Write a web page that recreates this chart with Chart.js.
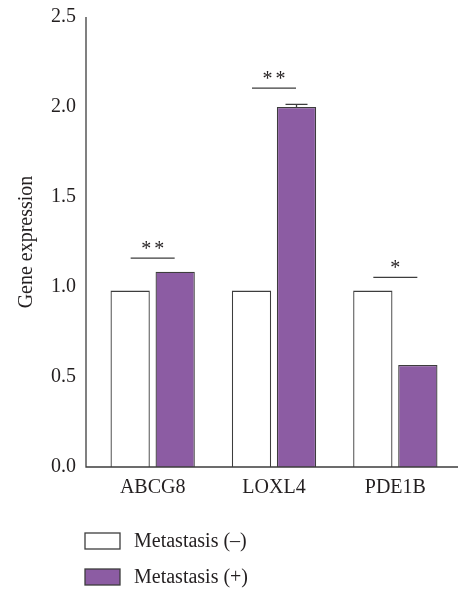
<!DOCTYPE html>
<html>
<head>
<meta charset="utf-8">
<script src="https://cdn.jsdelivr.net/npm/chart.js@4/dist/chart.umd.min.js"></script>
<style>
  html, body { margin: 0; padding: 0; background: #ffffff; }
  canvas { display: block; }
</style>
</head>
<body>
<canvas id="chart" width="458" height="589"></canvas>
<script>
// Relative gene expression by metastasis status
const categories = ['ABCG8', 'LOXL4', 'PDE1B'];
const seriesNames = ['Metastasis (–)', 'Metastasis (+)'];
const negValues = [0.98, 0.98, 0.98];
const posValues = [1.085, 2.0, 0.567];
const posErrors = [0, 0.015, 0];
const sigMarks = ['**', '**', '*'];
const sigLevels = [1.16, 2.105, 1.054];
const yTicks = [0.0, 0.5, 1.0, 1.5, 2.0, 2.5];

const FONT = "'Liberation Serif', 'Times New Roman', serif";
const INK = '#231f20';
const EDGE = '#3d3d3d';

const decorations = {
  id: 'decorations',
  afterDatasetsDraw(chart) {
    const { ctx, scales: { x, y } } = chart;
    const axisX = chart.chartArea.left - 6;
    const y0 = y.getPixelForValue(0);
    const yTop = y.getPixelForValue(yTicks[yTicks.length - 1]);
    ctx.save();
    ctx.strokeStyle = EDGE;
    ctx.lineWidth = 1.3;
    ctx.beginPath();
    ctx.moveTo(axisX, yTop);
    ctx.lineTo(axisX, y0);
    ctx.lineTo(chart.width, y0);
    ctx.stroke();

    // error caps on the (+) bars
    const posMeta = chart.getDatasetMeta(1);
    posErrors.forEach((err, i) => {
      if (!err) return;
      const bar = posMeta.data[i];
      const yv = y.getPixelForValue(posValues[i]);
      const ye = y.getPixelForValue(posValues[i] + err);
      ctx.beginPath();
      ctx.moveTo(bar.x, yv);
      ctx.lineTo(bar.x, ye);
      ctx.moveTo(bar.x - 11, ye);
      ctx.lineTo(bar.x + 11, ye);
      ctx.stroke();
    });

    // significance brackets
    ctx.fillStyle = INK;
    ctx.font = '20px ' + FONT;
    ctx.textAlign = 'center';
    ctx.textBaseline = 'alphabetic';
    sigMarks.forEach((mark, i) => {
      const cx = x.getPixelForValue(i);
      const ly = y.getPixelForValue(sigLevels[i]);
      ctx.beginPath();
      ctx.moveTo(cx - 22, ly);
      ctx.lineTo(cx + 22, ly);
      ctx.stroke();
      const n = mark.length;
      for (let k = 0; k < n; k++) {
        const sx = cx + (k - (n - 1) / 2) * 13;
        ctx.fillText('*', sx, ly - 3);
      }
    });
    ctx.restore();
  },
  afterDraw(chart) {
    const { ctx } = chart;
    const left = chart.chartArea.left - 7;
    const rows = [541, 577];
    ctx.save();
    ctx.font = '20px ' + FONT;
    ctx.textAlign = 'left';
    ctx.textBaseline = 'middle';
    chart.data.datasets.forEach((ds, i) => {
      const cy = rows[i];
      ctx.fillStyle = ds.backgroundColor;
      ctx.fillRect(left, cy - 8, 35, 16);
      ctx.strokeStyle = ds.borderColor;
      ctx.lineWidth = 1.3;
      ctx.strokeRect(left, cy - 8, 35, 16);
      ctx.fillStyle = INK;
      ctx.fillText(ds.label, left + 49, cy + 1);
    });
    ctx.restore();
  }
};

const barStyle = {
  borderColor: EDGE,
  borderWidth: 1.3,
  categoryPercentage: 0.742,
  barPercentage: 0.873
};

new Chart(document.getElementById('chart'), {
  type: 'bar',
  data: {
    labels: categories,
    datasets: [
      Object.assign({ label: seriesNames[0], data: negValues, backgroundColor: '#ffffff' }, barStyle),
      Object.assign({ label: seriesNames[1], data: posValues, backgroundColor: '#8c5ca3' }, barStyle)
    ]
  },
  options: {
    responsive: false,
    animation: false,
    events: [],
    layout: { padding: { left: 13, right: 2, top: 17, bottom: 80 } },
    scales: {
      x: {
        grid: { display: false, drawTicks: false },
        border: { display: false },
        ticks: { padding: 9, color: INK, font: { family: FONT, size: 20 } }
      },
      y: {
        min: 0,
        max: 2.5,
        afterBuildTicks(scale) { scale.ticks = yTicks.map(v => ({ value: v })); },
        afterFit(scale) { scale.paddingTop = 0; scale.paddingBottom = 0; },
        grid: { display: false, drawTicks: false },
        border: { display: false },
        ticks: {
          padding: 16,
          color: INK,
          font: { family: FONT, size: 20 },
          callback: v => Number(v).toFixed(1)
        },
        title: {
          display: true,
          text: 'Gene expression',
          color: INK,
          font: { family: FONT, size: 20 },
          padding: { top: 2, bottom: -4 }
        }
      }
    },
    plugins: { legend: { display: false }, tooltip: { enabled: false } }
  },
  plugins: [decorations]
});
</script>
</body>
</html>
